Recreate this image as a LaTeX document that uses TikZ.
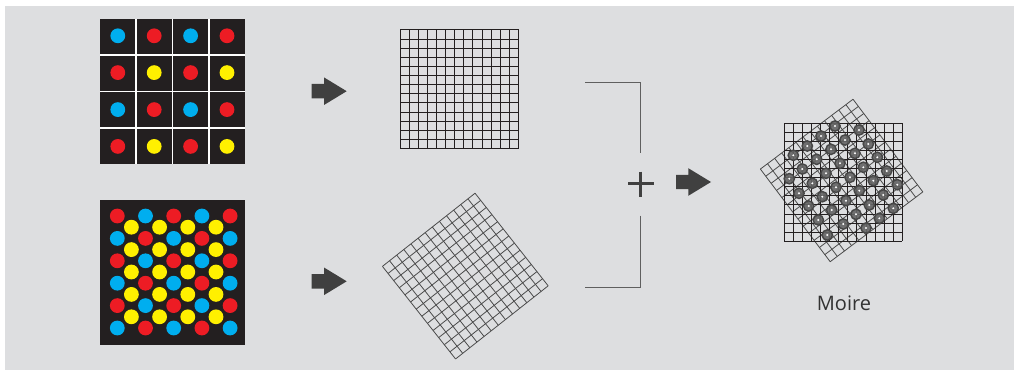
\documentclass[tikz,border=0pt]{standalone}
\usepackage{fontspec}
\setmainfont{Open Sans}
\definecolor{bggray}{RGB}{221,222,224}
\definecolor{panel}{RGB}{35,31,32}
\definecolor{dotblue}{RGB}{0,174,239}
\definecolor{dotred}{RGB}{237,28,36}
\definecolor{dotyellow}{RGB}{255,240,0}
\definecolor{arrowgray}{RGB}{64,64,64}
\definecolor{bracketgray}{RGB}{95,95,95}
\definecolor{rotgray}{RGB}{75,75,75}
\definecolor{blobfill}{RGB}{100,100,100}
\definecolor{blobring}{RGB}{70,70,70}
\definecolor{textgray}{RGB}{50,50,50}
\tikzset{
  gridline/.style={draw=panel, line width=1pt},
  rotline/.style={draw=rotgray, line width=0.8pt},
  bracketline/.style={draw=bracketgray, line width=1pt},
  plusline/.style={draw=arrowgray, line width=3pt},
  blockarrow/.pic={\fill[arrowgray] (0,-7.2) -- (12.3,-7.2) -- (12.3,-13.8) -- (35,0) -- (12.3,13.8) -- (12.3,7.2) -- (0,7.2) -- cycle;},
  bdot/.style={fill=dotblue},
  rdot/.style={fill=dotred},
  ydot/.style={fill=dotyellow},
  blob/.style={fill=blobfill, draw=blobring, line width=1.4pt}
}
\begin{document}
\begin{tikzpicture}[x=1pt,y=-1pt]
\useasboundingbox (0,0) rectangle (1019,374);
\fill[white] (0,0) rectangle (1019,374);
\fill[bggray] (5,6) rectangle (1014,370);

% ---- top-left 4x4 panel ----
\fill[panel] (100,19) rectangle (245,164);
\foreach \k in {1,2,3} {
  \draw[white, line width=1.6pt] ({100+\k*36.25},19) -- ++(0,145);
  \draw[white, line width=1.6pt] (100,{19+\k*36.25}) -- ++(145,0);
}
\foreach \c [count=\i from 0] in {bdot,rdot,bdot,rdot} {
  \fill[\c] ({117.8+\i*36.4},35.8) circle[radius=7.4pt];
  \fill[\c] ({117.8+\i*36.4},109.6) circle[radius=7.4pt];
}
\foreach \c [count=\i from 0] in {rdot,ydot,rdot,ydot} {
  \fill[\c] ({117.8+\i*36.4},72.6) circle[radius=7.4pt];
  \fill[\c] ({117.8+\i*36.4},146.4) circle[radius=7.4pt];
}

% ---- bottom-left dense panel ----
\fill[panel] (100,200) rectangle (245,345);
\foreach \r in {0,...,5} {
  \foreach \i in {0,...,4} {
    \pgfmathtruncatemacro{\parity}{mod(\r+\i,2)}
    \ifnum\parity=0
      \fill[rdot] ({117.3+\i*28.2},{216+\r*22.4}) circle[radius=7.4pt];
    \else
      \fill[bdot] ({117.3+\i*28.2},{216+\r*22.4}) circle[radius=7.4pt];
    \fi
  }
}
\foreach \r in {0,...,4} {
  \foreach \i in {0,...,3} {
    \fill[ydot] ({131.4+\i*28.2},{227.2+\r*22.4}) circle[radius=7.4pt];
  }
}

% ---- arrows ----
\pic at (311.7,91.2) {blockarrow};
\pic at (311.7,281.3) {blockarrow};
\pic at (676,182) {blockarrow};

% ---- straight grid ----
\foreach \k in {0,...,13} {
  \draw[gridline] ({400+\k*118.5/13},30) -- ++(0,118.5);
  \draw[gridline] (400,{30+\k*118.5/13}) -- ++(118.5,0);
}

% ---- rotated grid ----
\begin{scope}[shift={(465.3,276.1)}, rotate=38.3]
\foreach \k in {0,...,13} {
  \draw[rotline] ({-59+\k*118/13},-59) -- ++(0,118);
  \draw[rotline] (-59,{-59+\k*118/13}) -- ++(118,0);
}
\end{scope}

% ---- bracket and plus ----
\coordinate (btop) at (640.7,82.3);
\coordinate (bbot) at (640.7,287.3);
\draw[bracketline] (585,82.3) -- (btop) -- (640.7,153.3);
\draw[bracketline] (640.7,215.7) -- (bbot) -- (585,287.3);
\draw[plusline] (628.3,184) -- (654,184);
\draw[plusline] (640.7,171.7) -- (640.7,196.7);

% ---- moire ----
\begin{scope}[shift={(841.6,180.5)}, rotate=37]
\foreach \k in {0,...,13} {
  \draw[rotline] ({-58+\k*116/13},-58) -- ++(0,116);
  \draw[rotline] (-58,{-58+\k*116/13}) -- ++(116,0);
}
\end{scope}
\foreach \k in {0,...,13} {
  \draw[gridline] ({784.3+\k*118/13},123.3) -- ++(0,118);
  \draw[gridline] (784.3,{123.3+\k*118/13}) -- ++(118,0);
}
\foreach \p in {(835,126),(859,130),
  (821,136),(845,140),(868.3,144),
  (807.3,146),(831,149.3),(855,153.3),(877.3,157.3),
  (793.3,155.3),(816.7,159.3),(840,163.3),(863.3,167.3),(886.7,171),
  (802.3,169),(826,173.3),(850,177.3),(873.3,180.7),(897.3,184.7),
  (789.3,178.7),(812.3,183.3),(836,187.3),(859.3,190.7),(883.3,195),
  (799,193.3),(822.3,196.7),(846,200.7),(869.3,205),(893.3,208.3),
  (808.7,206),(831.7,210),(856,214.3),(879.3,218.3),
  (818.3,220),(843.3,224),(866,228),
  (827.3,235)} {
  \filldraw[blob, fill opacity=0.9] \p circle[radius=5.2pt];
  \fill[white] \p circle[radius=1.1pt];
}

\node[anchor=base, text=textgray, font=\fontsize{20pt}{22pt}\selectfont, inner sep=0pt] (moire) at (844,310) {Moire};
\end{tikzpicture}
\end{document}
